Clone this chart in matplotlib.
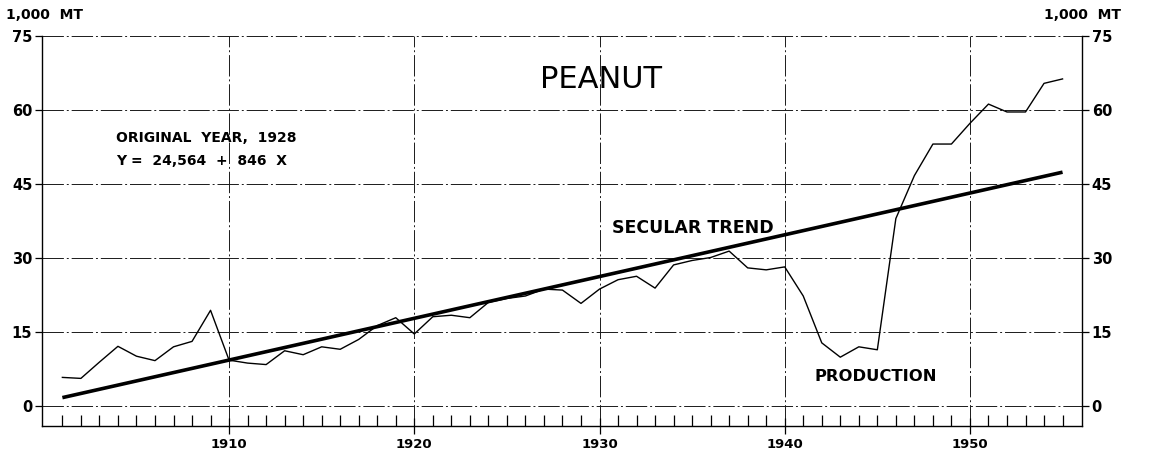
import matplotlib
matplotlib.use("Agg")
import matplotlib.pyplot as plt
from matplotlib.ticker import FixedLocator

# ---- data ----
years = list(range(1901, 1956))
production = [5.8, 5.6, 8.9, 12.1, 10.1, 9.2, 12.0, 13.1, 19.4, 9.3,
              8.7, 8.4, 11.2, 10.4, 12.0, 11.5, 13.5, 16.3, 17.9, 14.6,
              18.1, 18.4, 17.9, 21.0, 21.8, 22.3, 23.7, 23.5, 20.8, 23.7,
              25.6, 26.3, 23.9, 28.6, 29.5, 30.1, 31.4, 28.0, 27.6, 28.2,
              22.3, 12.8, 9.9, 12.0, 11.4, 38.0, 46.7, 53.1, 53.1, 57.3,
              61.2, 59.6, 59.6, 65.4, 66.3]
trend_years = [1901, 1955]
trend_values = [1.7, 47.4]
y_ticks = [0, 15, 30, 45, 60, 75]
decades = [1910, 1920, 1930, 1940, 1950]
decade_labels = ["1910", "1920", "1930", "1940", "1950"]

plt.rcParams["font.family"] = ["DejaVu Sans"]
plt.rcParams["font.weight"] = "bold"

W, H = 1152, 454
fig = plt.figure(figsize=(W / 100, H / 100), dpi=100)
ax = fig.add_axes([42 / W, (H - 426) / H, (1082 - 42) / W, (426 - 36) / H])
ax.set_xlim(1899.9, 1956.05)
ax.set_ylim(-4.05, 75)

grid_style = dict(color="#1a1a1a", lw=0.7, linestyle=(0, (22, 3, 2, 3)), zorder=1)
for v in y_ticks:
    ax.axhline(v, **grid_style)
for d in decades:
    ax.axvline(d, **grid_style)

ax.plot(years, production, color="black", lw=1.0, zorder=3)
ax.plot(trend_years, trend_values, color="black", lw=2.6, solid_capstyle="butt", zorder=4)

ax.spines["top"].set_visible(False)
for s in ["left", "right", "bottom"]:
    ax.spines[s].set_linewidth(1.0)

ax.yaxis.set_major_locator(FixedLocator(y_ticks))
ax.tick_params(axis="y", which="both", left=True, right=True, labelleft=True,
               labelright=True, direction="out", length=5, width=0.9, pad=2,
               labelsize=10.5)

ax.xaxis.set_major_locator(FixedLocator(decades))
ax.set_xticklabels(decade_labels, fontweight="bold", fontsize=9.5)
ax.xaxis.set_minor_locator(FixedLocator([y for y in years if y not in decades]))
ax.tick_params(axis="x", which="minor", direction="in", length=8, width=0.9)
ax.tick_params(axis="x", which="major", direction="inout", length=12, width=0.9, pad=3)

fig.text(6 / W, 1 - 15 / H, "1,000  MT", fontsize=10, fontweight="bold", va="center", ha="left")
fig.text(1044 / W, 1 - 15 / H, "1,000  MT", fontsize=10, fontweight="bold", va="center", ha="left")

ax.text(1930.1, 66.1, "PEANUT", fontsize=22, fontweight="normal", ha="center", va="center")
ax.text(1903.9, 54.4, "ORIGINAL  YEAR,  1928", fontsize=10, fontweight="bold", ha="left", va="center")
ax.text(1903.9, 49.6, "Y =  24,564  +  846  X", fontsize=10, fontweight="bold", ha="left", va="center")
ax.text(1930.7, 36.1, "SECULAR TREND", fontsize=12.5, fontweight="bold", ha="left", va="center")
ax.text(1941.6, 5.9, "PRODUCTION", fontsize=11.8, fontweight="bold", ha="left", va="center")

fig.savefig("out.png", dpi=100)
